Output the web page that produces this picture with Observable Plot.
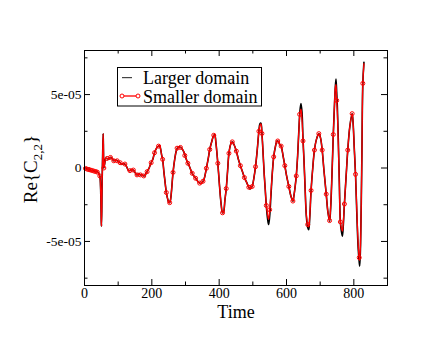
<!DOCTYPE html>
<html><head><meta charset="utf-8">
<script src="https://cdn.jsdelivr.net/npm/d3@7"></script>
<script src="https://cdn.jsdelivr.net/npm/@observablehq/plot@0.6"></script>
<style>
html,body{margin:0;padding:0;background:#fff;}
#chart{width:436px;height:337px;}
svg{display:block;}
</style></head><body><div id="chart"></div>
<script>
// values of Re{C2,2} in units of 1e-6
const time = [
  0,5,10,15,20,25,30,35,40,44,
  46,48,50,50.5,52,54,55.5,56.5,57.5,60,
  63,67,72,77,82,87,92,97,101,106,
  110,115,120,125,130,135,140,145,150,156,
  161,166,171,176,181,186,192,198,203,208,
  214,220,223,226,229,232,236,240,243,247,
  250,253,256,259,263,268,273,278,283,290,
  295,300,307,310,320,330,340,347,354,362,
  368,372,378,384,387,390,396,401,406,410,
  413,417,421,425,429,434,439,444,451,457,
  463,470,475,482,488,492,498,503,508,513,
  518,521,524,527,530,534,537,540,544,547,
  550,554,558,562,567,572,576,580,584,590,
  595,600,607,613,619,622,626,629,633,637,
  640,643,646,649,652,655,659,663,666,669,
  673,678,683,689,696,701,706,711,718,723,
  728,731,735,739,742,745,747,749,751,754,
  757,760,763,766,769,772,777,782,788,795,
  798,801,805,809,813,816,817.5,820,822,824,
  826.7,830
];
const larger = [
  0,-0.5,-1,-1.2,-1.6,-1.9,-2.2,-2.5,-3,-4.5,
  -6,-15,-37,-39.6,-15,10,23.4,10,0,3,
  6.5,6.5,6,7.2,6.5,4.9,5.5,4.9,4.5,3.6,
  2.5,3,2.7,1,-1.5,-1.8,-1,-1.4,-3,-4.7,
  -3.8,-4.7,-4.5,-5.4,-4.5,-2.5,0,3.6,6,10.4,
  13.5,14.9,15.5,13,9,5.9,-3,-11,-16.7,-21,
  -23.3,-23.6,-21,-14,-3,6,12,14.3,14.3,13,
  11,7.5,3.2,2,-3.6,-7,-10,-10.5,-8.3,-0.2,
  7,12.6,18,22.3,22.5,18,3.2,-12,-25,-30.5,
  -30,-22,-14,-2,10,16,17.8,16,11.5,6,
  1.6,-3,-6.5,-10,-13.1,-14.3,-12.6,-7,0.9,12,
  25,30,30.5,23.5,12,-5,-15,-25.7,-35,-38.5,
  -33,-18,-3,7.6,14.5,18.4,18,16,14.9,8,
  1.6,-5,-12.6,-19,-22.5,-19,-12,-5.4,8,27,
  39,43.8,38,20,5,-12,-33,-40.5,-42,-34,
  -15.3,0,12.2,19.5,23.4,20.5,12.2,-1,-17.8,-30,
  -36.3,-28,-5,22.8,40,55,60.6,52,42,18,
  -10,-36.7,-43,-46.4,-38,-24.5,-6,12.2,28,37,
  30,15,-4.3,-32,-55,-64,-66.7,-52,-25,10,
  57.6,72
];
const smaller = [
  0,-0.5,-1,-1.2,-1.6,-1.9,-2.2,-2.5,-3,-4.5,
  -6,-15,-37,-39.6,-15,10,23.4,10,0,3,
  6.5,6.5,6,7.2,6.5,4.9,5.5,4.9,4.5,3.6,
  2.5,3,2.7,1,-1.5,-1.8,-1,-1.4,-3,-4.7,
  -3.8,-4.7,-4.5,-5.4,-4.5,-2.5,0,3.6,6,10.4,
  13.5,14.9,15.5,13,9,5.9,-3,-11,-16.7,-21,
  -23.3,-23.6,-21,-14,-3,6,12,14.3,14.3,13,
  11,7.5,3.2,2,-3.6,-7,-10,-10.5,-8.3,-0.2,
  7,12.6,18,22.3,22.5,18,3.2,-12,-25,-30.5,
  -30,-22,-14,-2,10,16,17.8,16,11.5,6,
  1.6,-3,-6.5,-10,-13.1,-14.3,-12.6,-7,0.9,12,
  25,29,30,23.5,12,-5,-15,-25.5,-32,-35,
  -28.4,-16,-3,7.6,14.5,18.4,18,16,14.9,8,
  1.6,-5,-12.6,-19,-22.5,-19,-12,-5.4,8,27,
  37,40,33,18.4,5,-12,-32,-38.5,-40,-33,
  -15.3,0,12.2,19.5,23.4,20.5,12.2,-1,-17.8,-30,
  -35.8,-27,-5,22.8,40,55,57,46,38,15,
  -12,-36.7,-41,-43,-36,-24.5,-6,12.2,28,37,
  30,15,-4.3,-30,-52,-61,-63,-50,-25,10,
  57.6,71
];
const markerTime = [
  3,8,13,18,23,28,33,38,45.5,57.5,
  67,77,87,97,106,120,135,145,156,166,
  176,186,198,208,220,232,243,253,263,275,
  285,298,307,320,330,342,352,362,372,384,
  396,410,421,429,439,451,463,475,488,498,
  508,518,527,540,550,562,574,584,595,607,
  619,629,639,649,663,673,683,696,706,718,
  728,739,749,760,772,782,795,805,816,826.7
];
const markerValue = [
  -0.3,-0.8,-1.1,-1.4,-1.7,-2.1,-2.4,-2.8,-5.4,0,
  6.5,7.2,4.9,4.9,3.6,2.7,-1.8,-1.4,-4.7,-4.7,
  -5.4,-2.5,3.6,10.4,14.9,5.9,-16.7,-23.6,-3,13.5,
  14,8.5,3.2,-3.6,-7,-10.3,-9,-0.2,12.6,22.3,
  3.2,-30.5,-14,10,17.8,11.5,1.6,-6.5,-13.1,-12.6,
  0.9,25,23.5,-25.5,-28.4,7.6,18.4,14.9,1.6,-12.6,
  -22.5,-5.4,36.5,18.4,-38.5,-15.3,12.2,23.4,12.2,-17.8,
  -35.8,22.8,46,-36.7,-24.5,12.2,37,-4.3,-61,57.6
];
const seriesNames = ["Larger domain", "Smaller domain"];
const xMajorTicks = [0, 200, 400, 600, 800];
const xMinorTicks = [100, 300, 500, 700];
const yMajorTicks = [-50, 0, 50];
const yMajorLabels = ["-5e-05", "0", "5e-05"];
const yMinorTicks = [-75, -25, 25, 75];
const xTitle = "Time";

const W = 436, H = 337, mL = 84, mR = 49, mT = 50, mB = 52;
const iw = W - mL - mR, ih = H - mT - mB;
const font = "'Liberation Serif','Times New Roman',Times,serif";

const largerRows = time.map((t, i) => ({t, v: larger[i]}));
const smallerRows = time.map((t, i) => ({t, v: smaller[i]}));
const markerRows = markerTime.map((t, i) => ({t, v: markerValue[i]}));

const plot = Plot.plot({
  width: W, height: H,
  marginLeft: mL, marginRight: mR, marginTop: mT, marginBottom: mB,
  style: {fontFamily: font, fontSize: "13.5px", background: "white", color: "black", overflow: "visible"},
  x: {domain: [0, 900], label: null},
  y: {domain: [-80, 80], label: null},
  marks: [
    Plot.axisX(xMajorTicks, {tickSize: 0, tickPadding: 3, fontSize: 14, label: null, tickFormat: d => String(d)}),
    Plot.axisY(yMajorTicks, {tickSize: 0, tickPadding: 3, fontSize: 13.5, label: null, tickFormat: d => yMajorLabels[yMajorTicks.indexOf(d)]}),
    Plot.tickX(xMajorTicks, {x: d => d, insetTop: ih - 6, stroke: "black"}),
    Plot.tickX(xMajorTicks, {x: d => d, insetBottom: ih - 6, stroke: "black"}),
    Plot.tickX(xMinorTicks, {x: d => d, insetTop: ih - 3.5, stroke: "black"}),
    Plot.tickX(xMinorTicks, {x: d => d, insetBottom: ih - 3.5, stroke: "black"}),
    Plot.tickY(yMajorTicks, {y: d => d, insetRight: iw - 6, stroke: "black"}),
    Plot.tickY(yMajorTicks, {y: d => d, insetLeft: iw - 6, stroke: "black"}),
    Plot.tickY(yMinorTicks, {y: d => d, insetRight: iw - 3.5, stroke: "black"}),
    Plot.tickY(yMinorTicks, {y: d => d, insetLeft: iw - 3.5, stroke: "black"}),
    Plot.line(largerRows, {x: "t", y: "v", stroke: "black", strokeWidth: 1.6, curve: "catmull-rom"}),
    Plot.line(smallerRows, {x: "t", y: "v", stroke: "red", strokeWidth: 1.3, curve: "catmull-rom"}),
    Plot.dot(markerRows, {x: "t", y: "v", r: 2, stroke: "red", fill: "none", strokeWidth: 1}),
    Plot.frame({stroke: "black", strokeWidth: 1})
  ]
});

const svg = d3.select(plot);
const g = svg.append("g").attr("font-family", font).attr("fill", "black").attr("text-anchor", "start");

// legend
g.append("rect").attr("x", 117.5).attr("y", 67.5).attr("width", 144).attr("height", 38.5)
  .attr("fill", "white").attr("stroke", "black").attr("stroke-width", 1);
g.append("rect").attr("x", 122).attr("y", 77).attr("width", 10).attr("height", 1.2)
  .attr("fill", "#444").attr("stroke", "none");
g.append("path").attr("d", "M122,96H138").attr("fill", "none")
  .attr("stroke", "red").attr("stroke-width", 1.3);
[122, 138].forEach(cx => g.append("circle").attr("cx", cx).attr("cy", 96).attr("r", 2)
  .attr("fill", "white").attr("stroke", "red").attr("stroke-width", 1));
g.append("text").attr("x", 143).attr("y", 83.5).attr("font-size", 18).attr("text-anchor", "start").text(seriesNames[0]);
g.append("text").attr("x", 143).attr("y", 102.5).attr("font-size", 18).attr("text-anchor", "start").text(seriesNames[1]);

// x title
g.append("text").attr("x", 236).attr("y", 318).attr("text-anchor", "middle")
  .attr("font-size", 18).text(xTitle);

// y title Re{C_{2,2}}
const yt = g.append("text").attr("transform", "translate(37,169) rotate(-90)")
  .attr("text-anchor", "middle").attr("font-size", 19);
yt.append("tspan").text("Re{C");
yt.append("tspan").attr("font-size", 13).attr("dy", 5).text("2,2");
yt.append("tspan").attr("dy", -5).text("}");

document.getElementById("chart").appendChild(plot);
</script></body></html>
